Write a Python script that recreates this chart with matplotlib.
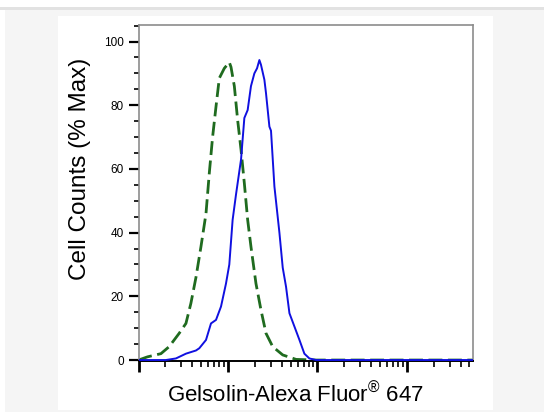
import numpy as np
import matplotlib
matplotlib.use("Agg")
import matplotlib.pyplot as plt
from matplotlib.patches import Rectangle
from matplotlib.ticker import LogLocator, NullFormatter, MultipleLocator

plt.rcParams['font.family'] = ['Liberation Sans', 'DejaVu Sans']
plt.rcParams['mathtext.default'] = 'regular'

## stained sample (blue, solid): fluorescence intensity vs % max
stain_x = [10, 20.2, 26.2, 33.9, 43.9, 47.8, 56.8, 64.6, 73.5, 83.6, 95.0, 103.5,
           112.7, 123.0, 140.0, 152.4, 166.0, 180.7, 197.2, 211.3, 224.4, 233.9,
           255.3, 266.1, 290.4, 302.7, 330.4, 375.8, 409.3, 445.7, 486.4, 553.4,
           629.5, 714.5, 812.8, 966, 1500, 3000, 10000, 30000, 54800]
stain_y = [0, 0, 0.5, 2, 3, 3.7, 6.3, 11.5, 12.6, 16.8, 24, 30,
           44, 52, 63, 76, 78.5, 86, 90, 91.6, 94.2, 92.7,
           88, 83.8, 73.3, 72, 54.5, 40, 29, 23, 14.7, 10.5,
           6.3, 2, 0.5, 0, 0, 0, 0, 0, 0]

## isotype control (green, dashed)
ctrl_x = [10, 12.6, 17.8, 22.0, 28.5, 33.9, 38.5, 43.9, 49.9, 56.8, 61.8, 67.3,
          73.5, 80.0, 91.0, 103.5, 108.1, 117.8, 128.2, 140.0, 152.4, 166.0,
          180.7, 205.6, 233.9, 266.1, 316.2, 409.3, 576.8, 966, 3000, 10000, 54800]
ctrl_y = [0, 1, 2, 4.2, 8.4, 11.5, 17.8, 26, 35.6, 46, 58.6, 70,
          79.6, 88.5, 91.6, 93.5, 92, 86, 75.4, 66, 55.5, 44,
          35.6, 24, 15.7, 8.4, 4.2, 1.6, 0.2, 0, 0, 0, 0]

y_ticks = [0, 20, 40, 60, 80, 100]

fig = plt.figure(figsize=(5.44, 4.12), dpi=100)
fig.patch.set_facecolor('white')

# page background: light gray frame with a white panel
fig.patches.append(Rectangle((5/544, 0), 539/544, 402/412, transform=fig.transFigure,
                             facecolor='#f5f5f5', edgecolor='none', zorder=-3))
fig.patches.append(Rectangle((0, 402/412), 1, 3/412, transform=fig.transFigure,
                             facecolor='#e2e2e2', edgecolor='none', zorder=-3))
fig.patches.append(Rectangle((58/544, 2/412), 435/544, 394/412, transform=fig.transFigure,
                             facecolor='white', edgecolor='none', zorder=-2))

ax = fig.add_axes([0.2546, 0.1238, 0.6149, 0.8155])
ax.set_facecolor('white')

ax.plot(ctrl_x, ctrl_y, color='#1f6b1f', lw=2.0, ls=(0, (5, 2)), zorder=2)
ax.plot(stain_x, stain_y, color='#1010e0', lw=1.4, zorder=3)

ax.set_xscale('log')
ax.set_xlim(10, 54800)
ax.set_ylim(-0.3, 105.2)

ax.xaxis.set_major_locator(LogLocator(base=10, numticks=10))
ax.xaxis.set_minor_locator(LogLocator(base=10, subs=np.arange(2, 10), numticks=10))
ax.xaxis.set_major_formatter(NullFormatter())
ax.xaxis.set_minor_formatter(NullFormatter())
ax.set_yticks(y_ticks)
ax.yaxis.set_minor_locator(MultipleLocator(5))

ax.tick_params(axis='x', which='major', direction='out', length=8, width=2, color='black')
ax.tick_params(axis='x', which='minor', direction='out', length=4.5, width=1.2, color='black')
ax.tick_params(axis='y', which='major', direction='out', length=7, width=1.6,
               color='black', labelsize=8.5, pad=3.5)
ax.tick_params(axis='y', which='minor', direction='out', length=3.5, width=1.2, color='black')

for s in ['top', 'right', 'left']:
    ax.spines[s].set_color('#8c8c8c')
    ax.spines[s].set_linewidth(1.2)
ax.spines['bottom'].set_color('black')
ax.spines['bottom'].set_linewidth(1.4)

# axis titles placed as in the reference (not centred on the axes)
fig.text(80/544, 1 - 169/412, 'Cell Counts (% Max)', fontsize=17.5,
         rotation=90, ha='center', va='center')
fig.text(295/544, 1 - 402/412, 'Gelsolin-Alexa Fluor$^{\u00ae}$ 647', fontsize=16,
         ha='center', va='baseline')

fig.savefig('out.png', dpi=100)
